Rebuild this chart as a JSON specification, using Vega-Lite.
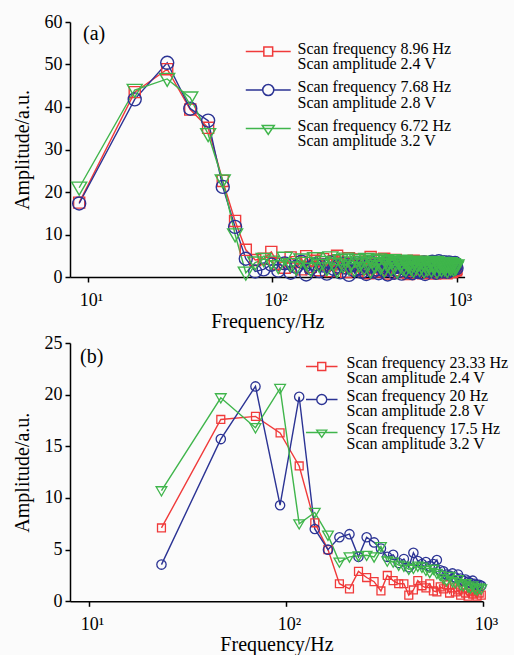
{
  "$schema": "https://vega.github.io/schema/vega-lite/v6.json",
  "background": "#fbfbfb",
  "padding": {"left": 12, "top": 13, "right": 5, "bottom": 0},
  "spacing": 3,
  "config": {
    "font": "Liberation Serif",
    "view": {"stroke": null},
    "style": {"guide-label": {"lineHeight": 15.8}},
    "axis": {"domainColor": "black", "tickColor": "black", "labelColor": "black", "titleColor": "black", "labelFont": "Liberation Serif", "titleFont": "Liberation Serif", "labelFontSize": 18, "titleFontSize": 20, "titleFontWeight": "normal", "grid": false, "tickSize": 5, "domainWidth": 1.5, "tickWidth": 1.5}
  },
  "datasets": {
    "a": [
      {"f":8.96,"r":17.5,"b":17.3,"g":21.0},{"f":17.92,"r":43.5,"b":41.8,"g":44.0},{"f":26.88,"r":48.9,"b":50.4,"g":46.6},{"f":35.84,"r":39.4,"b":39.6,"g":42.2},{"f":44.8,"r":35.1,"b":36.8,"g":33.6},{"f":53.76,"r":22.6,"b":21.2,"g":22.7},{"f":62.72,"r":13.2,"b":11.8,"g":10.0},{"f":71.68,"r":6.4,"b":4.3,"g":1.0},{"f":80.64,"r":4.0,"b":1.3,"g":3.4},{"f":89.6,"r":4.3,"b":1.8,"g":4.2},
      {"f":98.56,"r":5.9,"b":2.9,"g":3.6},{"f":107.52,"r":3.1,"b":1.5,"g":2.5},{"f":116.48,"r":2.2,"b":3.2,"g":4.5},{"f":125.44,"r":4.6,"b":1.0,"g":3.0},{"f":134.4,"r":3.5,"b":2.4,"g":2.2},{"f":143.36,"r":1.8,"b":3.6,"g":4.1},{"f":152.32,"r":4.9,"b":0.6,"g":3.3},{"f":161.28,"r":2.4,"b":2.1,"g":1.9},{"f":170.24,"r":3.8,"b":3.0,"g":4.4},{"f":179.2,"r":1.6,"b":1.4,"g":2.8},
      {"f":188.16,"r":4.2,"b":2.7,"g":3.5},{"f":197.12,"r":2.9,"b":0.8,"g":2.0},{"f":206.08,"r":1.4,"b":3.4,"g":4.6},{"f":215.04,"r":3.7,"b":1.9,"g":3.1},{"f":224,"r":5.0,"b":2.5,"g":1.6},{"f":232.96,"r":2.1,"b":1.1,"g":3.9},{"f":241.92,"r":3.3,"b":3.1,"g":2.7},{"f":250.88,"r":1.2,"b":2.2,"g":4.3},{"f":259.84,"r":4.4,"b":0.5,"g":2.3},{"f":268.8,"r":2.6,"b":2.8,"g":3.4},
      {"f":277.76,"r":3.0,"b":1.6,"g":1.8},{"f":286.72,"r":1.5,"b":3.3,"g":4.0},{"f":295.68,"r":4.1,"b":2.0,"g":2.9},{"f":304.64,"r":2.8,"b":1.2,"g":3.6},{"f":313.6,"r":1.9,"b":2.9,"g":2.1},{"f":322.56,"r":3.6,"b":0.7,"g":4.2},{"f":331.52,"r":0.9,"b":2.4,"g":3.2},{"f":340.48,"r":4.7,"b":3.5,"g":1.5},{"f":349.44,"r":2.3,"b":1.3,"g":3.8},{"f":358.4,"r":3.2,"b":2.6,"g":2.6},
      {"f":367.36,"r":1.3,"b":1.8,"g":3.3},{"f":376.32,"r":3.9,"b":0.9,"g":4.1},{"f":385.28,"r":2.5,"b":3.0,"g":2.4},{"f":394.24,"r":1.7,"b":2.3,"g":3.0},{"f":403.2,"r":4.3,"b":1.5,"g":1.7},{"f":412.16,"r":2.0,"b":2.7,"g":3.7},{"f":421.12,"r":3.4,"b":0.6,"g":2.8},{"f":430.08,"r":0.8,"b":3.2,"g":3.5},{"f":439.04,"r":3.1,"b":1.9,"g":2.0},{"f":448,"r":2.7,"b":2.1,"g":3.9},
      {"f":456.96,"r":1.6,"b":1.0,"g":2.5},{"f":465.92,"r":4.0,"b":2.8,"g":3.2},{"f":474.88,"r":2.2,"b":2.4,"g":1.4},{"f":483.84,"r":3.5,"b":1.4,"g":3.6},{"f":492.8,"r":1.1,"b":3.1,"g":2.9},{"f":501.76,"r":2.9,"b":0.8,"g":3.3},{"f":510.72,"r":3.7,"b":2.2,"g":2.2},{"f":519.68,"r":1.4,"b":2.6,"g":3.8},{"f":528.64,"r":2.6,"b":1.7,"g":1.8},{"f":537.6,"r":3.3,"b":2.9,"g":3.1},
      {"f":546.56,"r":0.7,"b":1.2,"g":2.7},{"f":555.52,"r":3.0,"b":2.0,"g":3.4},{"f":564.48,"r":2.4,"b":3.3,"g":2.1},{"f":573.44,"r":1.8,"b":0.9,"g":3.0},{"f":582.4,"r":3.8,"b":2.5,"g":1.6},{"f":591.36,"r":2.1,"b":1.6,"g":3.5},{"f":600.32,"r":1.0,"b":2.8,"g":2.4},{"f":609.28,"r":3.2,"b":1.3,"g":2.9},{"f":618.24,"r":2.8,"b":2.3,"g":3.2},{"f":627.2,"r":1.5,"b":3.0,"g":1.9},
      {"f":636.16,"r":3.6,"b":1.1,"g":3.6},{"f":645.12,"r":2.3,"b":2.6,"g":2.6},{"f":654.08,"r":0.9,"b":1.9,"g":3.1},{"f":663.04,"r":2.9,"b":3.4,"g":1.5},{"f":672,"r":3.1,"b":0.7,"g":2.8},{"f":680.96,"r":1.7,"b":2.2,"g":3.3},{"f":689.92,"r":2.5,"b":2.7,"g":2.0},{"f":698.88,"r":3.4,"b":1.5,"g":3.0},{"f":707.84,"r":1.2,"b":3.1,"g":2.5},{"f":716.8,"r":2.7,"b":2.0,"g":3.4},
      {"f":725.76,"r":2.0,"b":1.4,"g":1.7},{"f":734.72,"r":3.0,"b":3.6,"g":2.9},{"f":743.68,"r":1.4,"b":2.4,"g":3.2},{"f":752.64,"r":2.6,"b":1.8,"g":2.3},{"f":761.6,"r":0.8,"b":3.3,"g":2.7},{"f":770.56,"r":3.3,"b":1.0,"g":3.5},{"f":779.52,"r":2.2,"b":2.9,"g":1.4},{"f":788.48,"r":1.6,"b":2.1,"g":3.0},{"f":797.44,"r":2.9,"b":3.7,"g":2.6},{"f":806.4,"r":1.9,"b":1.6,"g":2.2},
      {"f":815.36,"r":2.4,"b":2.5,"g":3.1},{"f":824.32,"r":1.1,"b":3.2,"g":1.8},{"f":833.28,"r":3.1,"b":1.3,"g":2.8},{"f":842.24,"r":2.1,"b":2.7,"g":3.3},{"f":851.2,"r":1.5,"b":3.5,"g":2.4},{"f":860.16,"r":2.8,"b":1.9,"g":2.0},{"f":869.12,"r":1.8,"b":2.2,"g":3.0},{"f":878.08,"r":0.9,"b":3.0,"g":2.7},{"f":887.04,"r":2.5,"b":1.2,"g":1.6},{"f":896,"r":2.0,"b":2.8,"g":2.9},
      {"f":904.96,"r":1.4,"b":3.4,"g":2.5},{"f":913.92,"r":2.7,"b":2.0,"g":3.2},{"f":922.88,"r":1.7,"b":1.6,"g":2.1},{"f":931.84,"r":2.3,"b":3.1,"g":2.8},{"f":940.8,"r":1.2,"b":2.4,"g":2.3},{"f":949.76,"r":2.6,"b":1.8,"g":3.0},{"f":958.72,"r":1.9,"b":2.9,"g":1.9},{"f":967.68,"r":1.5,"b":2.2,"g":2.6},{"f":976.64,"r":2.2,"b":3.3,"g":2.4},{"f":985.6,"r":1.6,"b":2.6,"g":2.2},{"f":994.56,"r":1.8,"b":2.1,"g":2.7}
    ],
    "b": [
      {"f":23.33,"r":7.1,"b":3.55,"g":10.7},{"f":46.67,"r":17.6,"b":15.7,"g":19.7},{"f":70,"r":17.9,"b":20.8,"g":16.8},{"f":93.33,"r":16.3,"b":9.3,"g":20.6},{"f":116.67,"r":13.1,"b":19.8,"g":7.5},{"f":140,"r":7.6,"b":7.0,"g":8.6},{"f":163.33,"r":5.0,"b":5.0,"g":6.4},{"f":186.67,"r":1.7,"b":6.2,"g":3.8},{"f":210,"r":1.2,"b":6.5,"g":4.3},{"f":233.33,"r":2.9,"b":4.3,"g":4.4},
      {"f":256.67,"r":2.3,"b":6.2,"g":4.45},{"f":280,"r":1.9,"b":5.7,"g":4.3},{"f":303.33,"r":1.0,"b":5.1,"g":5.3},{"f":326.67,"r":2.5,"b":4.3,"g":3.9},{"f":350,"r":2.0,"b":4.5,"g":3.8},{"f":373.33,"r":1.7,"b":3.7,"g":3.5},{"f":396.67,"r":1.7,"b":4.1,"g":3.4},{"f":420,"r":0.6,"b":3.3,"g":3.1},{"f":443.33,"r":1.1,"b":4.7,"g":3.2},{"f":466.67,"r":2.0,"b":3.9,"g":3.4},
      {"f":490,"r":1.5,"b":3.6,"g":3.3},{"f":513.33,"r":1.3,"b":3.8,"g":3.0},{"f":536.67,"r":1.7,"b":3.4,"g":2.8},{"f":560,"r":1.0,"b":3.6,"g":3.1},{"f":583.33,"r":0.9,"b":4.0,"g":2.7},{"f":606.67,"r":1.4,"b":3.0,"g":2.5},{"f":630,"r":1.2,"b":2.9,"g":2.2},{"f":653.33,"r":1.6,"b":2.6,"g":2.0},{"f":676.67,"r":0.8,"b":2.5,"g":2.4},{"f":700,"r":1.3,"b":2.7,"g":1.9},
      {"f":723.33,"r":0.9,"b":2.3,"g":1.8},{"f":746.67,"r":1.1,"b":2.6,"g":2.1},{"f":770,"r":0.6,"b":2.2,"g":1.6},{"f":793.33,"r":1.2,"b":2.0,"g":1.5},{"f":816.67,"r":0.8,"b":2.1,"g":1.7},{"f":840,"r":0.5,"b":1.9,"g":1.4},{"f":863.33,"r":1.0,"b":1.8,"g":1.3},{"f":886.67,"r":0.7,"b":2.0,"g":1.5},{"f":910,"r":0.9,"b":1.7,"g":1.2},{"f":933.33,"r":0.5,"b":1.6,"g":1.1},
      {"f":956.67,"r":0.8,"b":1.6,"g":1.3},{"f":980,"r":0.6,"b":1.5,"g":1.2}
    ]
  },
  "resolve": {"scale": {"x": "independent", "y": "independent", "color": "independent", "shape": "independent"}, "legend": {"color": "independent", "shape": "independent"}},
  "vconcat": [
    {
      "width": 394.6,
      "height": 255,
      "transform": [{"fold": ["r", "b", "g"], "as": ["s", "y"]}],
      "data": {"name": "a"},
      "layer": [
        {
          "mark": {"type": "line", "strokeWidth": 1.4},
          "encoding": {
            "x": {"field": "f", "type": "quantitative", "scale": {"type": "log", "domain": [7.99, 1100], "nice": false}, "axis": {"values": [10, 100, 1000], "title": "Frequency/Hz", "labelExpr": "datum.value == 10 ? '10¹' : datum.value == 100 ? '10²' : '10³'", "labelPadding": 9, "titlePadding": 2, "labelOffset": 3, "labelFlush": false}},
            "y": {"field": "y", "type": "quantitative", "scale": {"domain": [0, 60], "nice": false}, "axis": {"values": [0, 10, 20, 30, 40, 50, 60], "title": "Amplitude/a.u.", "labelPadding": 3, "titlePadding": 12}},
            "color": {"field": "s", "type": "nominal", "scale": {"domain": ["r", "b", "g"], "range": ["#f03a3a", "#2b3394", "#3fb54b"]}}
          }
        },
        {
          "transform": [{"filter": "datum.f == 8.96"}],
          "mark": {"type": "point", "filled": false, "opacity": 0, "size": 10},
          "encoding": {
            "x": {"field": "f", "type": "quantitative"},
            "y": {"field": "y", "type": "quantitative"},
            "color": {"field": "s", "type": "nominal", "scale": {"domain": ["r", "b", "g"], "range": ["#f03a3a", "#2b3394", "#3fb54b"]},
              "legend": {"orient": "none", "legendX": 189.25, "legendY": 17.5, "title": null, "padding": 0, "symbolSize": 256, "symbolStrokeWidth": 1.5, "symbolOpacity": 1, "symbolFillColor": "transparent", "labelFont": "Liberation Serif", "labelFontSize": 16, "labelColor": "black", "labelOffset": 20.25, "labelBaseline": "middle", "labelLimit": 0, "rowPadding": 5.5,
                "labelExpr": "datum.value == 'r' ? ['Scan frequency 8.96 Hz','Scan amplitude 2.4 V'] : datum.value == 'b' ? ['Scan frequency 7.68 Hz','Scan amplitude 2.8 V'] : ['Scan frequency 6.72 Hz','Scan amplitude 3.2 V']"}},
            "shape": {"field": "s", "type": "nominal", "scale": {"domain": ["r", "b", "g"], "range": ["M-2.81,0.375H-0.55M0.55,0.375H2.81M-0.55,-0.175H0.55V0.925H-0.55Z", "M-2.81,0.375H-0.69M0.69,0.375H2.81M-0.69,0.375A0.69,0.69,0,1,1,0.69,0.375A0.69,0.69,0,1,1,-0.69,0.375Z", "M-2.81,0.375H2.81M-0.75,0H0.75L0,1.125Z"]}, "legend": null}
          }
        },
        {
          "transform": [{"filter": "datum.s == 'r'"}],
          "mark": {"type": "point", "filled": false, "size": 196, "strokeWidth": 1.4, "opacity": 1, "color": "#f03a3a", "shape": "M-0.79,-0.79H0.79V0.79H-0.79Z"},
          "encoding": {"x": {"field": "f", "type": "quantitative"}, "y": {"field": "y", "type": "quantitative"}}
        },
        {
          "transform": [{"filter": "datum.s == 'b'"}],
          "mark": {"type": "point", "filled": false, "size": 196, "strokeWidth": 1.4, "opacity": 1, "color": "#2b3394", "shape": "M-0.93,0A0.93,0.93,0,1,1,0.93,0A0.93,0.93,0,1,1,-0.93,0Z"},
          "encoding": {"x": {"field": "f", "type": "quantitative"}, "y": {"field": "y", "type": "quantitative"}}
        },
        {
          "transform": [{"filter": "datum.s == 'g'"}],
          "mark": {"type": "point", "filled": false, "size": 196, "strokeWidth": 1.4, "opacity": 1, "color": "#3fb54b", "shape": "M-1.07,-0.8H1.07L0,1.05Z"},
          "encoding": {"x": {"field": "f", "type": "quantitative"}, "y": {"field": "y", "type": "quantitative"}}
        },
        {
          "data": {"values": [{"t": "(a)", "f": 9.4, "y": 57.1}]},
          "transform": [],
          "mark": {"type": "text", "align": "left", "baseline": "middle", "fontSize": 20, "font": "Liberation Serif", "color": "black"},
          "encoding": {"x": {"field": "f", "type": "quantitative"}, "y": {"field": "y", "type": "quantitative"}, "text": {"field": "t"}}
        }
      ]
    },
    {
      "width": 413,
      "height": 258.3,
      "transform": [{"fold": ["r", "b", "g"], "as": ["s", "y"]}],
      "data": {"name": "b"},
      "layer": [
        {
          "mark": {"type": "line", "strokeWidth": 1.4},
          "encoding": {
            "x": {"field": "f", "type": "quantitative", "scale": {"type": "log", "domain": [8.01, 1000], "nice": false}, "axis": {"values": [10, 100, 1000], "title": "Frequency/Hz", "labelExpr": "datum.value == 10 ? '10¹' : datum.value == 100 ? '10²' : '10³'", "labelPadding": 9, "titlePadding": 1, "labelOffset": 3, "labelFlush": false}},
            "y": {"field": "y", "type": "quantitative", "scale": {"domain": [0, 25], "nice": false}, "axis": {"values": [0, 5, 10, 15, 20, 25], "title": "Amplitude/a.u.", "labelPadding": 3, "titlePadding": 12}},
            "color": {"field": "s", "type": "nominal", "scale": {"domain": ["r", "b", "g"], "range": ["#f03a3a", "#2b3394", "#3fb54b"]}}
          }
        },
        {
          "transform": [{"filter": "datum.f == 23.33"}],
          "mark": {"type": "point", "filled": false, "opacity": 0, "size": 10},
          "encoding": {
            "x": {"field": "f", "type": "quantitative"},
            "y": {"field": "y", "type": "quantitative"},
            "color": {"field": "s", "type": "nominal", "scale": {"domain": ["r", "b", "g"], "range": ["#f03a3a", "#2b3394", "#3fb54b"]},
              "legend": {"orient": "none", "legendX": 242.75, "legendY": 10.5, "title": null, "padding": 0, "symbolSize": 256, "symbolStrokeWidth": 1.4, "symbolOpacity": 1, "symbolFillColor": "transparent", "labelFont": "Liberation Serif", "labelFontSize": 16, "labelColor": "black", "labelOffset": 15.75, "labelBaseline": "middle", "labelLimit": 0, "rowPadding": -3.5,
                "labelExpr": "datum.value == 'r' ? ['Scan frequency 23.33 Hz','Scan amplitude 2.4 V'] : datum.value == 'b' ? ['Scan frequency 20 Hz','Scan amplitude 2.8 V'] : ['Scan frequency 17.5 Hz','Scan amplitude 3.2 V']"}},
            "shape": {"field": "s", "type": "nominal", "scale": {"domain": ["r", "b", "g"], "range": ["M-1.97,0.5H-0.5M0.5,0.5H1.97M-0.5,0H0.5V1H-0.5Z", "M-1.97,0.5H-0.62M0.62,0.5H1.97M-0.62,0.5A0.62,0.62,0,1,1,0.62,0.5A0.62,0.62,0,1,1,-0.62,0.5Z", "M-1.97,0.5H1.97M-0.62,0.2H0.62L0,1.1Z"]}, "legend": null}
          }
        },
        {
          "transform": [{"filter": "datum.s == 'r'"}],
          "mark": {"type": "point", "filled": false, "size": 100, "strokeWidth": 1.3, "opacity": 1, "color": "#f03a3a", "shape": "M-0.79,-0.79H0.79V0.79H-0.79Z"},
          "encoding": {"x": {"field": "f", "type": "quantitative"}, "y": {"field": "y", "type": "quantitative"}}
        },
        {
          "transform": [{"filter": "datum.s == 'b'"}],
          "mark": {"type": "point", "filled": false, "size": 100, "strokeWidth": 1.3, "opacity": 1, "color": "#2b3394", "shape": "M-0.93,0A0.93,0.93,0,1,1,0.93,0A0.93,0.93,0,1,1,-0.93,0Z"},
          "encoding": {"x": {"field": "f", "type": "quantitative"}, "y": {"field": "y", "type": "quantitative"}}
        },
        {
          "transform": [{"filter": "datum.s == 'g'"}],
          "mark": {"type": "point", "filled": false, "size": 100, "strokeWidth": 1.3, "opacity": 1, "color": "#3fb54b", "shape": "M-1.07,-0.8H1.07L0,1.05Z"},
          "encoding": {"x": {"field": "f", "type": "quantitative"}, "y": {"field": "y", "type": "quantitative"}}
        },
        {
          "data": {"values": [{"t": "(b)", "f": 9.0, "y": 23.6}]},
          "transform": [],
          "mark": {"type": "text", "align": "left", "baseline": "middle", "fontSize": 20, "font": "Liberation Serif", "color": "black"},
          "encoding": {"x": {"field": "f", "type": "quantitative"}, "y": {"field": "y", "type": "quantitative"}, "text": {"field": "t"}}
        }
      ]
    }
  ]
}
